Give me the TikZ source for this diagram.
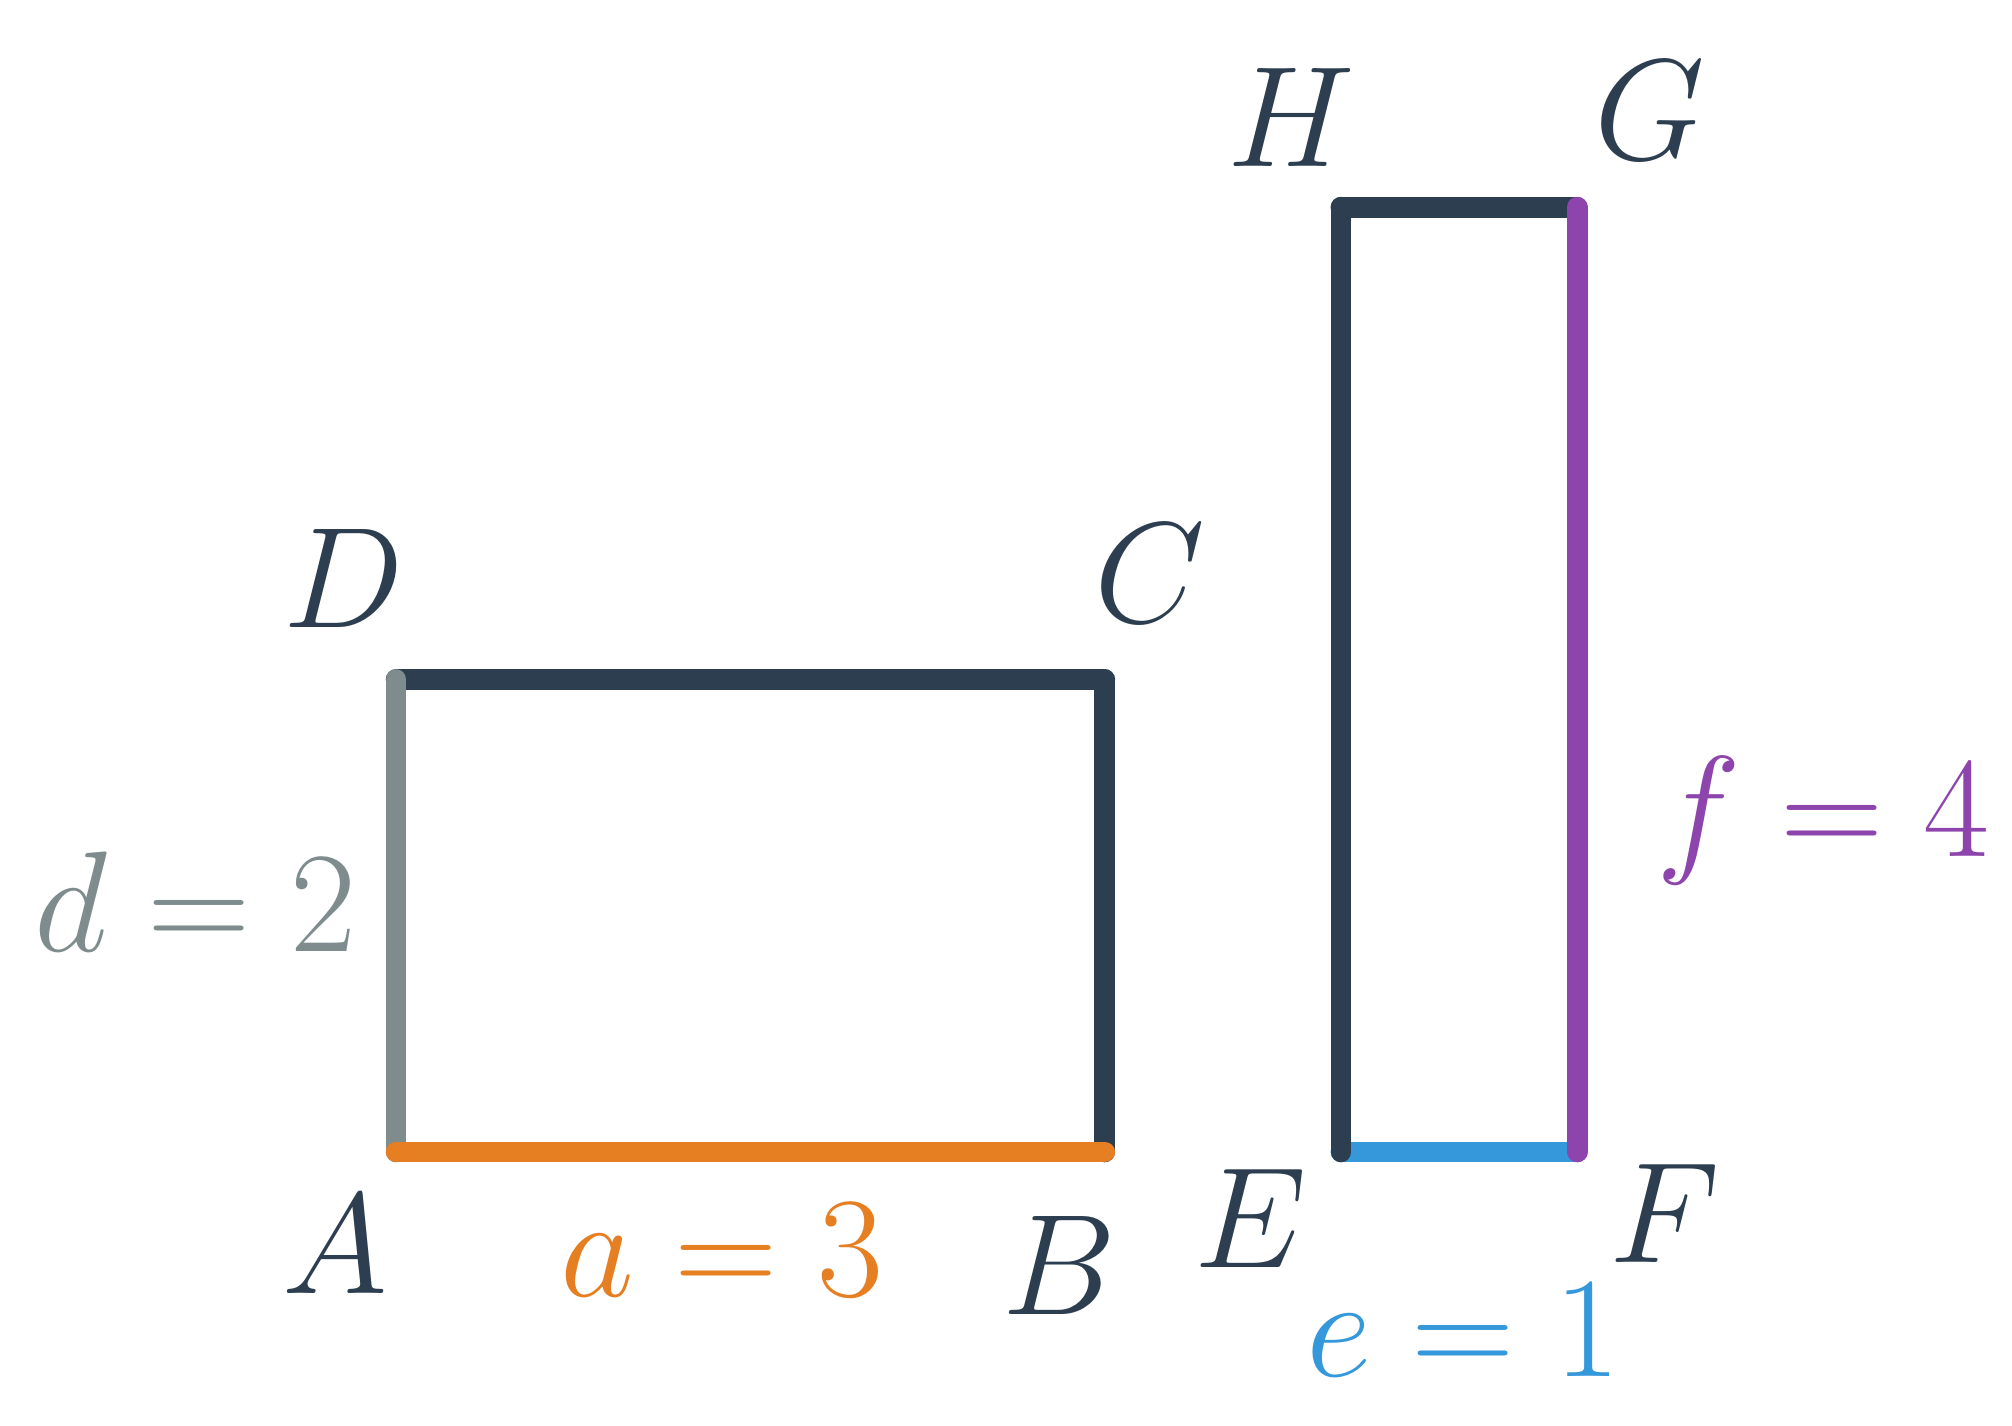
\documentclass[tikz,border=0pt]{standalone}
\definecolor{midnight}{HTML}{2C3E50}
\definecolor{asbestos}{HTML}{7F8C8D}
\definecolor{carrot}{HTML}{E67E22}
\definecolor{river}{HTML}{3498DB}
\definecolor{wisteria}{HTML}{8E44AD}
\begin{document}
\begin{tikzpicture}[every node/.style={inner sep=0pt, font=\fontsize{16}{19}\selectfont},
    side/.style={line width=2.5pt, line cap=round}]
        \useasboundingbox (-1.677,-1.160) rectangle (6.841,4.877);

        \coordinate (A) at (0,0);
        \coordinate (B) at (3,0);
        \coordinate (C) at (3,2);
        \coordinate (D) at (0,2);
        \coordinate (E) at (4,0);
        \coordinate (F) at (5,0);
        \coordinate (G) at (5,4);
        \coordinate (H) at (4,4);

        \node[text=midnight] (lA) at (-0.26,-0.39) {$A$};
        \node[text=midnight] (lB) at (2.81,-0.48) {$B$};
        \node[text=midnight] (lC) at (3.19,2.45) {$C$};
        \node[text=midnight] (lD) at (-0.22,2.43) {$D$};
        \node[text=midnight] (lE) at (3.62,-0.28) {$E$};
        \node[text=midnight] (lF) at (5.37,-0.26) {$F$};
        \node[text=midnight] (lG) at (5.31,4.41) {$G$};
        \node[text=midnight] (lH) at (3.79,4.38) {$H$};

        \node[text=carrot, anchor=base] (la) at (1.38,-0.61) {$a=3$};
        \node[text=asbestos, anchor=base] (ld) at (-0.85,0.85) {$d=2$};
        \node[text=river, anchor=base] (le) at (4.52,-0.95) {$e=1$};
        \node[text=wisteria, anchor=base] (lf) at (6.04,1.25) {$f=4$};

        \draw[side, midnight] (D) -- (C);
        \draw[side, midnight] (B) -- (C);
        \draw[side, midnight] (H) -- (G);
        \draw[side, river] (E) -- (F);
        \draw[side, midnight] (E) -- (H);
        \draw[side, asbestos] (A) -- (D);
        \draw[side, carrot] (A) -- (B);
        \draw[side, wisteria] (F) -- (G);
    \end{tikzpicture}
\end{document}
